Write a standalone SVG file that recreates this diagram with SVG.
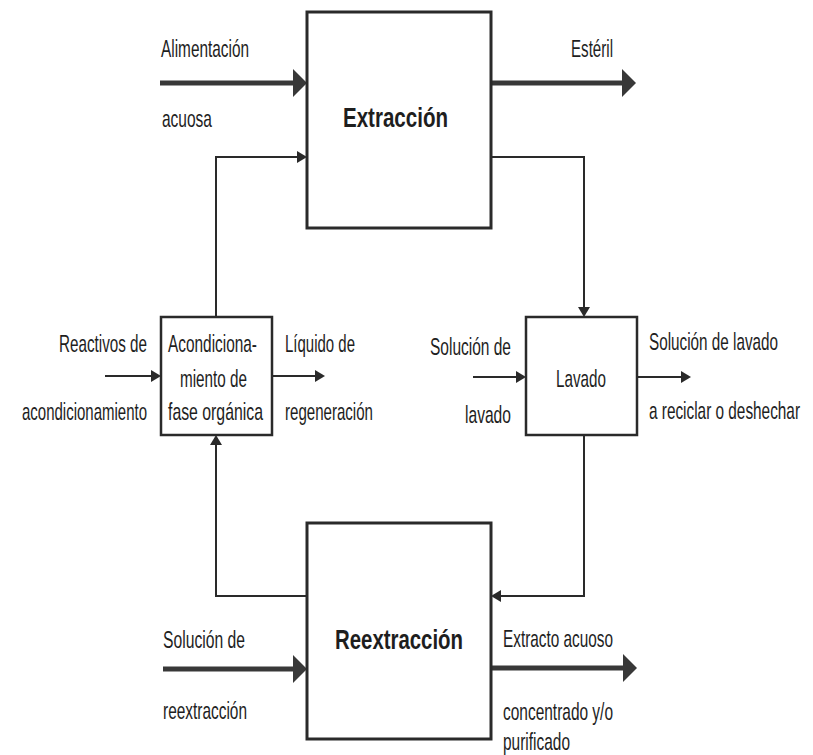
<svg xmlns="http://www.w3.org/2000/svg" width="813" height="755" viewBox="0 0 813 755">
<defs>
<style>
.box{fill:#fff;stroke:#2a2a2a;stroke-width:3}
.sbox{fill:#fff;stroke:#2a2a2a;stroke-width:2.5}
.thick{fill:none;stroke:#383838;stroke-width:5}
.thin{fill:none;stroke:#2a2a2a;stroke-width:2}
.t{font-family:"Liberation Sans",Arial,sans-serif;font-size:24px;fill:#1e1e1e}
.b{font-family:"Liberation Sans",Arial,sans-serif;font-size:28px;font-weight:bold;fill:#1e1e1e}
</style>
<marker id="big" markerUnits="userSpaceOnUse" markerWidth="14" markerHeight="28" viewBox="0 0 14 28" refX="6" refY="14" orient="auto">
<polygon points="0,0 14,14 0,28" fill="#383838"/>
</marker>
<marker id="small" markerUnits="userSpaceOnUse" markerWidth="10" markerHeight="12" viewBox="0 0 10 12" refX="4" refY="6" orient="auto">
<polygon points="0,0 10,6 0,12" fill="#2a2a2a"/>
</marker>
</defs>
<rect width="813" height="755" fill="#fff"/>

<g id="connectors">
<line class="thick" x1="160" y1="83" x2="299" y2="83" marker-end="url(#big)"/>
<line class="thick" x1="491" y1="83" x2="628" y2="83" marker-end="url(#big)"/>
<line class="thick" x1="163" y1="669" x2="299" y2="669" marker-end="url(#big)"/>
<line class="thick" x1="491" y1="668" x2="629" y2="668" marker-end="url(#big)"/>
<path class="thin" d="M491,157 H584 V311" marker-end="url(#small)"/>
<path class="thin" d="M216,317 V157 H301" marker-end="url(#small)"/>
<path class="thin" d="M584,435 V596 H497" marker-end="url(#small)"/>
<path class="thin" d="M307,596 H216 V441" marker-end="url(#small)"/>
<line class="thin" x1="105" y1="376" x2="155" y2="376" marker-end="url(#small)"/>
<line class="thin" x1="272" y1="376" x2="319" y2="376" marker-end="url(#small)"/>
<line class="thin" x1="473" y1="377" x2="520" y2="377" marker-end="url(#small)"/>
<line class="thin" x1="637" y1="377" x2="685" y2="377" marker-end="url(#small)"/>
</g>

<g id="extraccion">
<rect class="box" x="307" y="12" width="184" height="216"/>
<text class="b" transform="scale(0.73,1)" x="469.86" y="127" textLength="143.84" lengthAdjust="spacingAndGlyphs">Extracción</text>
</g>

<g id="reextraccion">
<rect class="box" x="307" y="523" width="184" height="216"/>
<text class="b" transform="scale(0.73,1)" x="458.9" y="649" textLength="175.34" lengthAdjust="spacingAndGlyphs">Reextracción</text>
</g>

<g id="acondicionamiento">
<rect class="sbox" x="161" y="317" width="111" height="118"/>
<text class="t" transform="scale(0.64,1)" x="262.5" y="352" textLength="139.06" lengthAdjust="spacingAndGlyphs">Acondiciona-</text>
<text class="t" transform="scale(0.64,1)" x="281.25" y="387" textLength="104.69" lengthAdjust="spacingAndGlyphs">miento de</text>
<text class="t" transform="scale(0.64,1)" x="262.5" y="420" textLength="148.44" lengthAdjust="spacingAndGlyphs">fase orgánica</text>
</g>

<g id="lavado">
<rect class="sbox" x="526" y="317" width="111" height="118"/>
<text class="t" transform="scale(0.64,1)" x="868.75" y="387" textLength="78.13" lengthAdjust="spacingAndGlyphs">Lavado</text>
</g>

<g id="labels">
<text class="t" transform="scale(0.64,1)" x="251.56" y="57" textLength="137.5" lengthAdjust="spacingAndGlyphs">Alimentación</text>
<text class="t" transform="scale(0.64,1)" x="253.13" y="127" textLength="78.13" lengthAdjust="spacingAndGlyphs">acuosa</text>
<text class="t" transform="scale(0.64,1)" x="892.19" y="57" textLength="65.63" lengthAdjust="spacingAndGlyphs">Estéril</text>
<text class="t" transform="scale(0.64,1)" x="92.19" y="352" textLength="137.5" lengthAdjust="spacingAndGlyphs">Reactivos de</text>
<text class="t" transform="scale(0.64,1)" x="34.38" y="420" textLength="195.31" lengthAdjust="spacingAndGlyphs">acondicionamiento</text>
<text class="t" transform="scale(0.64,1)" x="445.31" y="352" textLength="109.38" lengthAdjust="spacingAndGlyphs">Líquido de</text>
<text class="t" transform="scale(0.64,1)" x="445.31" y="420" textLength="137.5" lengthAdjust="spacingAndGlyphs">regeneración</text>
<text class="t" transform="scale(0.64,1)" x="671.88" y="355" textLength="126.56" lengthAdjust="spacingAndGlyphs">Solución de</text>
<text class="t" transform="scale(0.64,1)" x="726.56" y="423" textLength="71.88" lengthAdjust="spacingAndGlyphs">lavado</text>
<text class="t" transform="scale(0.64,1)" x="1014.06" y="350" textLength="201.56" lengthAdjust="spacingAndGlyphs">Solución de lavado</text>
<text class="t" transform="scale(0.64,1)" x="1014.06" y="419" textLength="235.94" lengthAdjust="spacingAndGlyphs">a reciclar o deshechar</text>
<text class="t" transform="scale(0.64,1)" x="254.69" y="648" textLength="128.13" lengthAdjust="spacingAndGlyphs">Solución de</text>
<text class="t" transform="scale(0.64,1)" x="254.69" y="719" textLength="131.25" lengthAdjust="spacingAndGlyphs">reextracción</text>
<text class="t" transform="scale(0.64,1)" x="785.94" y="647" textLength="171.88" lengthAdjust="spacingAndGlyphs">Extracto acuoso</text>
<text class="t" transform="scale(0.64,1)" x="785.94" y="720" textLength="171.88" lengthAdjust="spacingAndGlyphs">concentrado y/o</text>
<text class="t" transform="scale(0.64,1)" x="785.94" y="750" textLength="104.69" lengthAdjust="spacingAndGlyphs">purificado</text>
</g>
</svg>
